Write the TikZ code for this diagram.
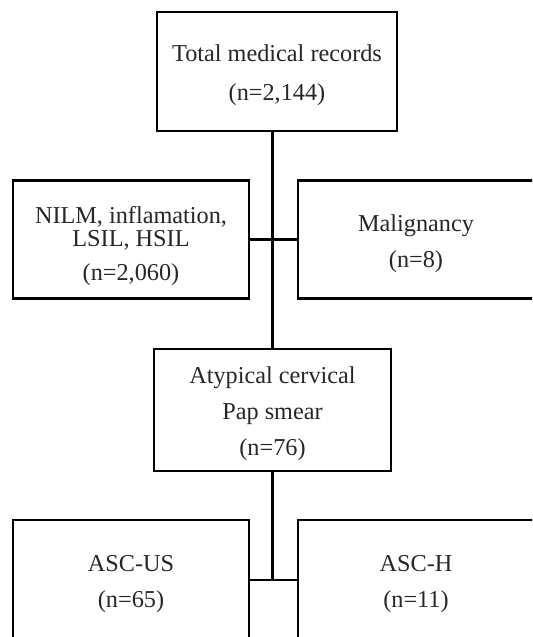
\documentclass[tikz,border=0pt]{standalone}
\usepackage{fontspec}
\setmainfont{Liberation Serif}
\usepackage{tikz}
\usepackage{xcolor}
\tikzstyle{boxes} = [rectangle, minimum width=4.72cm, minimum height=2.36cm, text centered, align=center,
draw=black, line width=1.6pt, inner sep=0pt, text=black!85, font=\fontsize{13.8}{20.5}\selectfont]
\tikzstyle{line} = [line width=1.6pt, -]
\newcommand{\topstrut}{\rule{0pt}{14pt}}

\begin{document}
\begin{tikzpicture}
        \useasboundingbox (0,0) rectangle (10.64,-12.74);
        \clip (0,0) rectangle (10.64,-12.74);

        % Boxes
        \node[boxes, minimum width=4.8cm, minimum height=2.38cm] (total) at (5.54,-1.43) {\topstrut Total medical records\\[1.5pt](n=2,144)};
        \node[boxes] (nilm) at (2.62,-4.79) {\rule{0pt}{17pt}NILM, inflamation,\\[-7.5pt]LSIL, HSIL\\[-1pt](n=2,060)};
        \node[boxes, right of=nilm, xshift=4.7cm] (malig) {\topstrut Malignancy\\(n=8)};
        \node[boxes, minimum width=4.74cm, minimum height=2.44cm] (atyp) at (5.45,-8.2) {\topstrut Atypical cervical\\Pap smear\\(n=76)};
        \node[boxes, minimum height=2.4cm] (ascus) at (2.62,-11.6) {\topstrut ASC-US\\(n=65)};
        \node[boxes, minimum height=2.4cm, right of=ascus, xshift=4.7cm] (asch) {\topstrut ASC-H\\(n=11)};

        % Connectors
        \draw[line] (total.south -| atyp.north) -- (atyp.north);
        \draw[line] (nilm.east) -- (malig.west);
        \draw[line] (atyp.south) -- (ascus.east -| atyp.south);
        \draw[line] (ascus.east) -- (asch.west);

    \end{tikzpicture}
\end{document}
